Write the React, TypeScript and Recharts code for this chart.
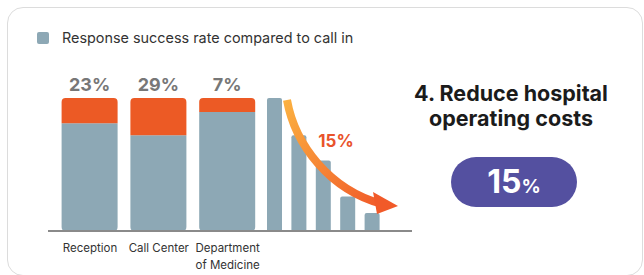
import { Bar, BarChart, LabelList, XAxis, YAxis } from "recharts";

// departments with the success / failure split (out of 100)
const categories = ["Reception", "Call Center", "Department\nof Medicine"];
const successRate = [81, 72, 89.5];
const failRate = [19, 28, 10.5];
const rateLabels = ["23%", "29%", "7%"];

// cost reduction steps
const steps = ["s1", "s2", "s3", "s4", "s5"];
const stepValues = [100, 72, 53, 26, 13.5];
const reductionLabel = "15%";

const legendName = "Response success rate compared to call in";
const headline = ["4. Reduce hospital", "operating costs"];
const bigNumber = "15";

const GRAY = "#8da8b5";
const ORANGE = "#ec5a25";
const FONT = "Inter, 'Noto Sans', sans-serif";

const deptData = categories.map((name, i) => ({
    name,
    success: successRate[i],
    fail: failRate[i],
    label: rateLabels[i],
}));

const stepData = steps.map((name, i) => ({ name, value: stepValues[i] }));

const DeptTick = ({ x, y, payload }: any) => {
    const lines = String(payload.value).split("\n");
    return (
        <text x={x} y={y + 21} textAnchor="middle" fill="#333" fontSize={11.5} fontFamily={FONT}>
            {lines.map((l, i) => (
                <tspan key={i} x={x} dy={i === 0 ? 0 : 17}>{l}</tspan>
            ))}
        </text>
    );
};

const App = () => {
    return (
        <div style={{ position: "absolute", left: 0, top: 0, width: 644, height: 275, background: "#fff", overflow: "hidden", fontFamily: FONT }}>
            <div style={{ position: "absolute", left: 7, top: 7, width: 636, height: 269, border: "1px solid #dcdcdc", borderRadius: 16, boxSizing: "border-box" }} />

            {/* legend */}
            <div style={{ position: "absolute", left: 37, top: 29, display: "flex", alignItems: "center", fontSize: 14.4, color: "#333", lineHeight: "18px" }}>
                <span style={{ width: 12, height: 12, borderRadius: 2, background: GRAY, marginRight: 13, display: "inline-block" }} />
                <span>{legendName}</span>
            </div>

            <div style={{ position: "absolute", left: 30, top: 20 }}>
                <BarChart width={232} height={251} data={deptData} margin={{ top: 78, right: 0, bottom: 0, left: 18 }}>
                    <YAxis hide domain={[0, 100]} />
                    <XAxis dataKey="name" interval={0} height={40} tickLine={false} tickSize={0} tickMargin={0}
                        axisLine={{ stroke: "#8a8a8a", strokeWidth: 2 }} padding={{ left: 7.6, right: 0 }} tick={<DeptTick />} />
                    <Bar dataKey="success" name={legendName} stackId="a" fill={GRAY} barSize={56} radius={[0, 0, 4, 4]} isAnimationActive={false} />
                    <Bar dataKey="fail" stackId="a" fill={ORANGE} barSize={56} radius={[4, 4, 0, 0]} isAnimationActive={false}>
                        <LabelList dataKey="label" position="top" offset={7} fill="#777" fontSize={18} fontWeight={700} fontFamily={FONT} />
                    </Bar>
                </BarChart>
            </div>

            <div style={{ position: "absolute", left: 262, top: 20 }}>
                <BarChart width={150} height={251} data={stepData} margin={{ top: 78, right: 0, bottom: 0, left: 0 }}>
                    <YAxis hide domain={[0, 100]} />
                    <XAxis dataKey="name" height={40} tick={false} tickLine={false}
                        axisLine={{ stroke: "#8a8a8a", strokeWidth: 2 }} padding={{ left: 0, right: 28 }} />
                    <Bar dataKey="value" fill={GRAY} barSize={15} radius={[2, 2, 0, 0]} isAnimationActive={false} />
                </BarChart>
            </div>

            <svg width={644} height={275} style={{ position: "absolute", left: 0, top: 0, pointerEvents: "none" }}>
                <defs>
                    <linearGradient id="arrowGrad" x1="0" y1="0" x2="1" y2="1">
                        <stop offset="0%" stopColor="#fbb040" />
                        <stop offset="100%" stopColor="#f15a29" />
                    </linearGradient>
                </defs>
                <path d="M 287 100 C 295 145 330 190 382 204" fill="none" stroke="url(#arrowGrad)" strokeWidth={8} />
                <polygon points="373,192 398,206 377,214" fill="#f15a29" />
                <text x={336} y={147} textAnchor="middle" fill="#e9532b" fontSize={17} fontWeight={700} fontFamily={FONT}>{reductionLabel}</text>
            </svg>

            <div style={{ position: "absolute", left: 391, top: 81, width: 240, textAlign: "center", fontSize: 21.5, lineHeight: "25px", fontWeight: 700, color: "#1b1b1b" }}>
                {headline.map((l, i) => <div key={i}>{l}</div>)}
            </div>

            <div style={{ position: "absolute", left: 451, top: 157, width: 126, height: 50, borderRadius: 25, background: "#5450a0",
                color: "#fff", fontWeight: 700, textAlign: "center", lineHeight: "50px" }}>
                <span style={{ fontSize: 32 }}>{bigNumber}</span>
                <span style={{ fontSize: 19 }}>%</span>
            </div>
        </div>
    );
};

export default App;
